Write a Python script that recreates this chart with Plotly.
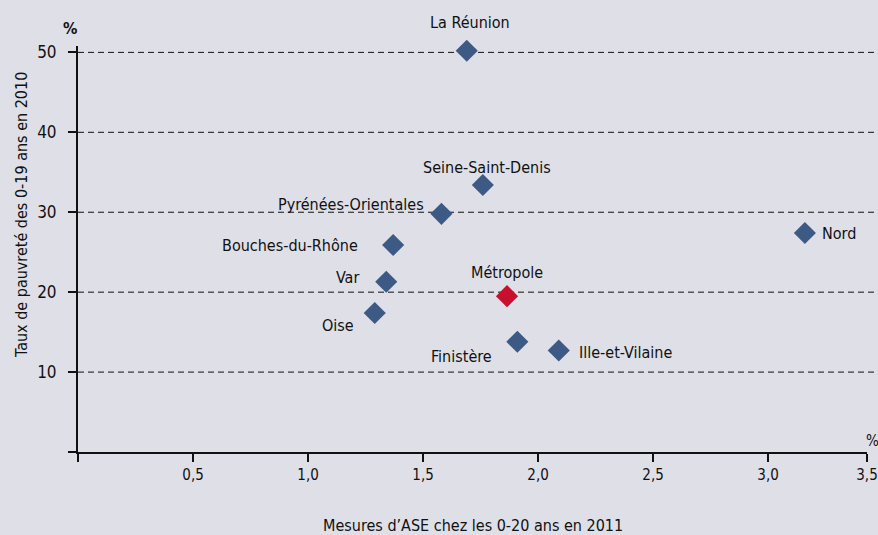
import plotly.graph_objects as go

# donnees
departements = ["La Réunion", "Seine-Saint-Denis", "Pyrénées-Orientales", "Bouches-du-Rhône",
                "Var", "Oise", "Métropole", "Finistère", "Ille-et-Vilaine", "Nord"]
ase = [1.69, 1.76, 1.58, 1.37, 1.34, 1.29, 1.865, 1.91, 2.09, 3.16]
pauvrete = [50.2, 33.4, 29.8, 25.9, 21.3, 17.4, 19.5, 13.8, 12.7, 27.4]

x_ticks = [0, 0.5, 1.0, 1.5, 2.0, 2.5, 3.0, 3.43]
x_labels = ["", "0,5", "1,0", "1,5", "2,0", "2,5", "3,0", "3,5"]
y_ticks = [0, 10, 20, 30, 40, 50]
y_labels = ["", "10", "20", "30", "40", "50"]

FONT = "DejaVu Sans Condensed, Roboto, sans-serif"
BLUE = "#3d5a85"
RED = "#c8102e"

colors = [RED if d == "Métropole" else BLUE for d in departements]

# position des etiquettes : (xanchor, xshift, yshift)
label_pos = {
    "La Réunion": ("center", 3, 28),
    "Seine-Saint-Denis": ("center", 4, 18),
    "Pyrénées-Orientales": ("right", -15, 9),
    "Bouches-du-Rhône": ("right", -33, 0),
    "Var": ("right", -25, 4),
    "Oise": ("right", -19, -13),
    "Métropole": ("center", 0, 24),
    "Finistère": ("right", -23, -15),
    "Ille-et-Vilaine": ("left", 18, -2),
    "Nord": ("left", 15, 0),
}

fig = go.Figure()
fig.add_trace(go.Scatter(
    x=ase, y=pauvrete, mode="markers", cliponaxis=False,
    marker=dict(symbol="diamond", size=17, color=colors, line=dict(width=0)),
    text=departements, hoverinfo="text", showlegend=False,
))

annotations = []
for d, xv, yv in zip(departements, ase, pauvrete):
    anc, xs, ys = label_pos[d]
    annotations.append(dict(x=xv, y=yv, text=d, showarrow=False, xanchor=anc, yanchor="middle",
                            xshift=xs, yshift=ys, font=dict(family=FONT, size=16, color="#111")))

annotations += [
    dict(text="<b>%</b>", xref="paper", yref="paper", x=-0.01, y=1.0, xanchor="center",
         yanchor="bottom", yshift=6, showarrow=False, font=dict(family=FONT, size=16, color="#111")),
    dict(text="%", xref="paper", yref="paper", x=1.0, y=0.0, xanchor="left", yanchor="bottom",
         xshift=-3, yshift=0, showarrow=False, font=dict(family=FONT, size=15, color="#111")),
    # titres des axes
    dict(text="Mesures d’ASE chez les 0-20 ans en 2011", xref="paper", yref="paper", x=0.5,
         y=0, yanchor="middle", yshift=-73, showarrow=False,
         font=dict(family=FONT, size=16, color="#111")),
    dict(text="Taux de pauvreté des 0-19 ans en 2010", xref="paper", yref="paper", x=0, y=0.5,
         xanchor="center", yanchor="middle", xshift=-57, yshift=34, textangle=-90,
         showarrow=False, font=dict(family=FONT, size=16, color="#111")),
]

shapes = [dict(type="line", xref="paper", yref="y", x0=0, x1=1.02, y0=v, y1=v,
               line=dict(color="#111", width=1, dash="6px,4px"), layer="below")
          for v in y_ticks if v > 0]

fig.update_layout(
    width=878, height=535,
    margin=dict(l=78, r=11, t=46, b=83),
    paper_bgcolor="#dedfe7", plot_bgcolor="#dedfe7",
    font=dict(family=FONT, size=15, color="#111"),
    annotations=annotations, shapes=shapes,
    xaxis=dict(range=[0, 3.43], tickvals=x_ticks, ticktext=x_labels, showgrid=False, zeroline=False,
               showline=True, linecolor="#111", linewidth=2, ticks="outside", ticklen=8,
               tickwidth=2, tickcolor="#111", tickfont=dict(size=15), automargin=False),
    yaxis=dict(range=[0, 50.8], tickvals=y_ticks, ticktext=y_labels, showgrid=False, zeroline=False,
               showline=True, linecolor="#111", linewidth=2, ticks="outside", ticklen=8,
               tickwidth=2, tickcolor="#111", tickfont=dict(size=17), automargin=False,
               ticklabelstandoff=8),
)

fig.write_html("out.html", config={"displayModeBar": False},
               post_script="document.body.style.margin='0';")
